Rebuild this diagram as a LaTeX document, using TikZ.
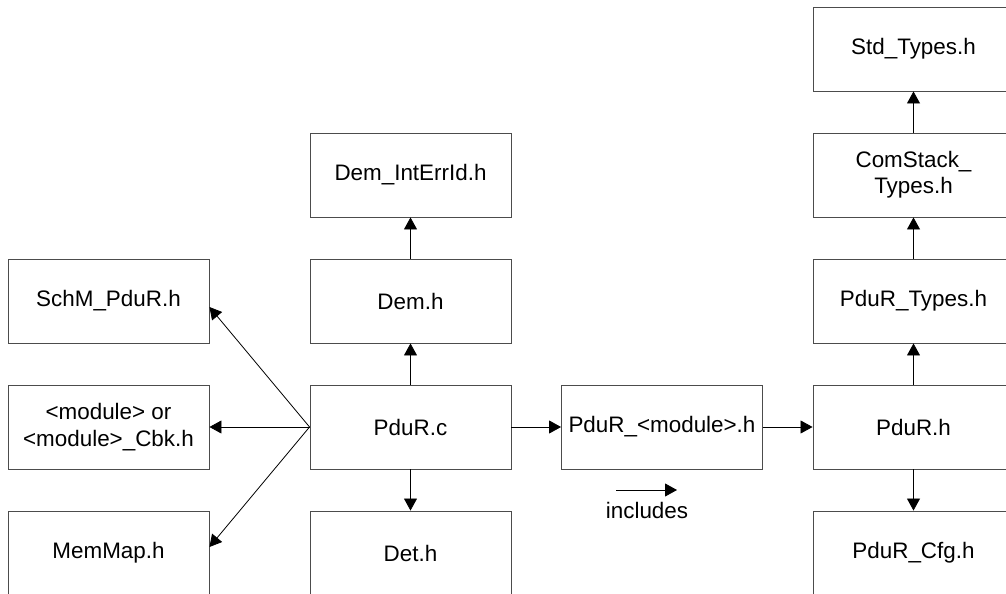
\documentclass[tikz,border=0pt]{standalone}
\usepackage{fontspec}
\setmainfont{Liberation Sans}
\usetikzlibrary{arrows.meta}

\begin{document}
\begin{tikzpicture}[x=1bp,y=-1bp,
	file_node/.style={rectangle,draw=black!70,line width=0.9bp,minimum width=201bp,minimum height=84bp,inner sep=2pt,align=center,font=\fontsize{22.5}{26.5}\selectfont},
	inc_arrow/.style={-{Triangle[length=12bp,width=13bp]},line width=0.8bp}]

		\useasboundingbox (0,0) rectangle (1006,594);
		\clip (0,0) rectangle (1006,594);

		\node[file_node] (schm) at (108.5,301) {SchM\_PduR.h};
		\node[file_node] (mod) at (108.5,427) {<module> or\\<module>\_Cbk.h};
		\node[file_node] (memmap) at (108.5,553) {MemMap.h};
		\node[file_node] (demerr) at (410.5,175) {Dem\_IntErrId.h};
		\node[file_node] (dem) at (410.5,301) {Dem.h};
		\node[file_node] (pdurc) at (410.5,427) {PduR.c};
		\node[file_node] (det) at (410.5,553) {Det.h};
		\node[file_node] (pdurmod) at (662,427) {PduR\_<module>.h};
		\node[file_node] (std) at (913.5,49) {Std\_Types.h};
		\node[file_node] (comstack) at (913.5,175) {ComStack\_\\Types.h};
		\node[file_node] (pdurtypes) at (913.5,301) {PduR\_Types.h};
		\node[file_node] (pdurh) at (913.5,427) {PduR.h};
		\node[file_node] (cfg) at (913.5,553) {PduR\_Cfg.h};

		\draw[inc_arrow] (pdurc.west) -- ([yshift=-6bp]schm.east);
		\draw[inc_arrow] (pdurc.west) -- (mod.east);
		\draw[inc_arrow] (pdurc.west) -- ([yshift=6bp]memmap.east);
		\draw[inc_arrow] (pdurc) -- (dem);
		\draw[inc_arrow] (dem) -- (demerr);
		\draw[inc_arrow] (pdurc) -- (det);
		\draw[inc_arrow] (pdurc) -- (pdurmod);
		\draw[inc_arrow] (pdurmod) -- (pdurh);
		\draw[inc_arrow] (pdurh) -- (pdurtypes);
		\draw[inc_arrow] (pdurtypes) -- (comstack);
		\draw[inc_arrow] (comstack) -- (std);
		\draw[inc_arrow] (pdurh) -- (cfg);

		\coordinate (legA) at (616,490);
		\coordinate (legB) at (677,490);
		\draw[inc_arrow] (legA) -- (legB);
		\node[font=\fontsize{22.5}{26.5}\selectfont] (legtext) at (647,510) {includes};
		\end{tikzpicture}
\end{document}
